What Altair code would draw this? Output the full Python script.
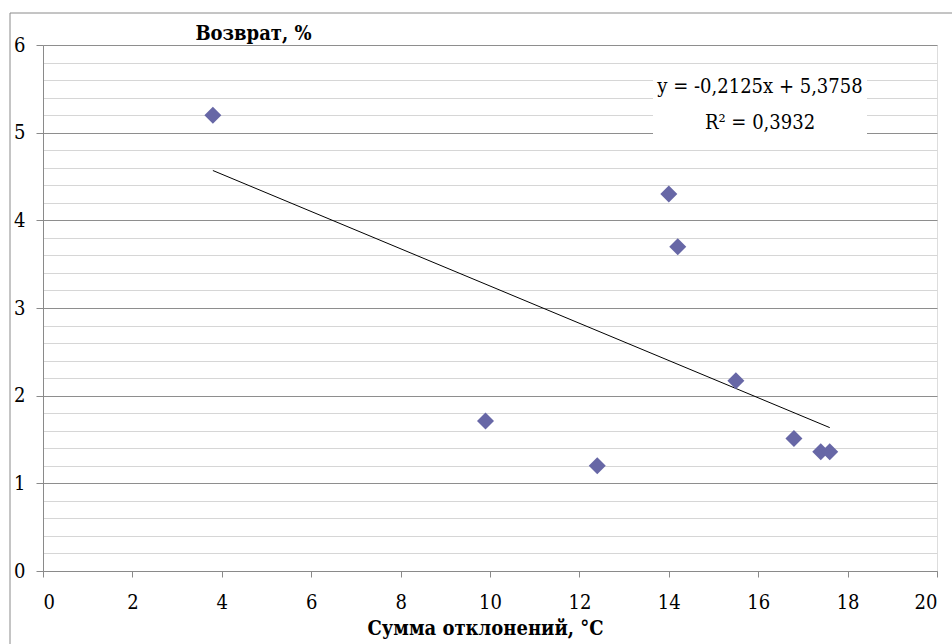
import altair as alt
import pandas as pd

# Sum of temperature deviations vs. return rate
deviation_sum = [3.8, 9.9, 12.4, 14.0, 14.2, 15.5, 16.8, 17.4, 17.6]
return_pct = [5.2, 1.71, 1.2, 4.3, 3.7, 2.17, 1.51, 1.36, 1.36]

# Linear trend stated on the chart
slope = -0.2125
intercept = 5.3758
r_squared = 0.3932

eq_line1 = "y = -0,2125x + 5,3758"
eq_line2 = "R² = 0,3932"

x_ticks = list(range(0, 21, 2))
y_grid = [round(i / 5, 1) for i in range(0, 31)]

points = pd.DataFrame({"x": deviation_sum, "y": return_pct})
x_ends = [min(deviation_sum), max(deviation_sum)]
trend = pd.DataFrame({"x": x_ends, "y": [slope * v + intercept for v in x_ends]})

SERIF = "DejaVu Serif Condensed, DejaVu Serif"
GRID_MAJOR = "#8e8e8e"
GRID_MINOR = "#d6d6d6"
FRAME = "#8a8a8a"
is_int = "datum.value % 1 === 0"

x_scale = alt.Scale(domain=[0, 20], nice=False, zero=True)
y_scale = alt.Scale(domain=[0, 6], nice=False, zero=True)

x_axis = alt.Axis(
    values=x_ticks, tickCount=len(x_ticks), format="d", grid=False,
    domainColor=FRAME, tickColor=FRAME, tickSize=6,
    labelFont=SERIF, labelFontSize=20, labelColor="black", labelPadding=15,
    labelOverlap=False,
    title="Сумма отклонений, °С", titleFont=SERIF, titleFontSize=20,
    titleFontWeight="bold", titleColor="black",
    titleX=442, titleY=63, titleAlign="center", titleBaseline="alphabetic",
)

y_axis = alt.Axis(
    values=y_grid, tickCount=len(y_grid), grid=True,
    gridColor={"condition": {"test": is_int, "value": GRID_MAJOR}, "value": GRID_MINOR},
    gridWidth=1,
    tickOpacity={"condition": {"test": is_int, "value": 1}, "value": 0},
    tickColor=FRAME, tickSize=7,
    labelExpr="datum.value % 1 === 0 ? format(datum.value, 'd') : ''",
    labelOverlap=False,
    domainColor=FRAME,
    labelFont=SERIF, labelFontSize=20, labelColor="black", labelPadding=11,
    title="Возврат, %", titleFont=SERIF, titleFontSize=20,
    titleFontWeight="bold", titleColor="black", titleAngle=0,
    titleX=210, titleY=-12, titleAlign="center", titleBaseline="middle",
)

scatter = alt.Chart(points).mark_point(
    shape="diamond", filled=True, size=289, color="#6767a6", opacity=1
).encode(
    x=alt.X("x:Q", scale=x_scale, axis=x_axis),
    y=alt.Y("y:Q", scale=y_scale, axis=y_axis),
)

trend_line = alt.Chart(trend).mark_line(color="black", strokeWidth=1).encode(
    x=alt.X("x:Q", scale=x_scale),
    y=alt.Y("y:Q", scale=y_scale),
)

one_row = pd.DataFrame({"k": [0]})

# White label box holding the regression equation
label_box = alt.Chart(one_row).mark_rect(color="white").encode(
    x=alt.value(610), x2=alt.value(824), y=alt.value(24), y2=alt.value(95)
)

label_text1 = alt.Chart(pd.DataFrame({"t": [eq_line1]})).mark_text(
    font=SERIF, fontSize=20, color="black", align="center", baseline="middle"
).encode(x=alt.value(717), y=alt.value(42), text="t:N")

label_text2 = alt.Chart(pd.DataFrame({"t": [eq_line2]})).mark_text(
    font=SERIF, fontSize=20, color="black", align="center", baseline="middle"
).encode(x=alt.value(717), y=alt.value(78), text="t:N")

# Outer chart frame (left and top edges)
frame_left = alt.Chart(one_row).mark_rule(color=FRAME, strokeWidth=1).encode(
    x=alt.value(-33), y=alt.value(-32), y2=alt.value(620)
)
frame_top = alt.Chart(one_row).mark_rule(color=FRAME, strokeWidth=1).encode(
    x=alt.value(-33), x2=alt.value(909), y=alt.value(-32)
)

chart = alt.layer(
    label_box, label_text1, label_text2, trend_line, scatter,
    frame_left, frame_top,
).properties(
    width=894, height=526,
    autosize=alt.AutoSizeParams(type="none"),
    padding={"left": 43, "top": 45, "right": 15, "bottom": 73},
    background="white",
).configure_view(
    stroke=None
).configure_axis(
    labelFont=SERIF, titleFont=SERIF
).configure(font=SERIF)

chart.save("out.html", embed_options={"renderer": "svg", "actions": False})
